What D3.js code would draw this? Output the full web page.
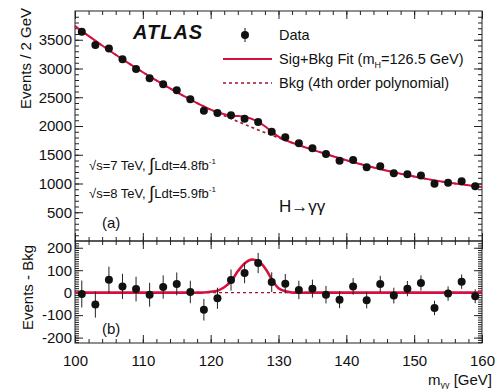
<!DOCTYPE html>
<html><head><meta charset="utf-8">
<script src="https://cdn.jsdelivr.net/npm/d3@7/dist/d3.min.js"></script>
<style>
body{margin:0;background:#fff;}
svg{display:block;font-family:"Liberation Sans",Arial,Helvetica,sans-serif;}
</style></head><body>
<script>
// ---- data ----
const binMass = [101,103,105,107,109,111,113,115,117,119,121,123,125,127,129,131,133,135,137,139,141,143,145,147,149,151,153,155,157,159];
const events  = [3640,3409,3350,3160,2990,2830,2725,2620,2465,2267,2227,2185,2128,2071,1898,1804,1700,1612,1513,1397,1409,1283,1300,1179,1162,1140,995,1013,1040,953];
const errors  = [60,58,58,56,55,53,52,51,50,48,47,47,46,45,44,43,41,40,39,38,37,36,36,35,34,34,32,32,32,31];
const resid   = [-6,-53,58,28,16,-9,25,39,3,-76,-25,56,88,132,47,40,12,18,-9,-31,28,-34,39,-13,18,43,-68,-4,49,-16];

const bkgMass = [100,102,104,106,108,110,112,114,116,118,120,122,124,126,128,130,132,134,136,138,140,142,144,146,148,150,152,154,156,158,160];
const bkgVals = [3740,3567,3400,3239,3084,2935,2792,2655,2524,2399,2280,2180,2078,1980,1885,1795,1708,1627,1550,1475,1405,1340,1279,1222,1169,1120,1076,1036,1000,968,940];

const fitMass = [100,102,104,106,108,110,112,114,116,117,118,119,120,121,122,123,124,125,126,127,128,129,130,131,132,133,134,135,136,138,140,142,144,146,148,150,152,154,156,158,160];
const fitVals = [3740,3567,3400,3239,3084,2935,2792,2655,2524,2461,2399,2340,2284,2239,2204,2179,2173,2159,2127,2072,1995,1900,1815,1757,1709,1667,1627,1588,1550,1475,1405,1340,1279,1222,1169,1120,1076,1036,1000,968,940];

const sigMass = [100,116,117,118,119,120,121,122,123,124,125,126,127,128,129,130,131,132,133,134,136,160];
const sigVals = [0,0,0,0,1,4,9,24,50,95,130,147,140,110,60,20,6,1,0,0,0,0];

const mainTicks = [500,1000,1500,2000,2500,3000,3500];
const lowTicks = [-200,-100,0,100,200];
const xTicks = [100,110,120,130,140,150,160];

// ---- layout ----
const W = 498, H = 389;
const L = 75, R = 482, T = 11, MID = 241, B = 343;
const red = "#d5103f", dred = "#a3122f";

const svg = d3.select("body").append("svg").attr("width", W).attr("height", H);

const x = d3.scaleLinear().domain([100,160]).range([L,R]);
const yM = d3.scaleLinear().domain([0,4000]).range([MID,T]);
const yL = d3.scaleLinear().domain([-224,230]).range([B,MID]);

const fs = 15;

function frame(y0,y1){
  svg.append("rect").attr("x",L).attr("y",y0).attr("width",R-L).attr("height",y1-y0)
     .attr("fill","none").attr("stroke","#222").attr("stroke-width",1);
}

function ticks(axisFn, scale, vals, size, transform, labels, pad){
  const a = axisFn(scale).tickValues(vals).tickSize(size).tickPadding(pad||3);
  if(labels) a.tickFormat(d=>String(d)); else a.tickFormat("");
  const g = svg.append("g").attr("transform",transform).call(a);
  g.select(".domain").remove();
  g.selectAll("line").attr("stroke","#222");
  g.selectAll("text").attr("font-size",fs).attr("fill","#111").attr("font-family","Liberation Sans, Arial, sans-serif");
  return g;
}
const rng = (a,b,s)=>d3.range(a,b+s/2,s);
const xMinor = rng(100,160,2);
const xMajor = xTicks;

// main panel axes
ticks(d3.axisLeft, yM, rng(100,3900,100), -4, `translate(${L},0)`, false);
ticks(d3.axisLeft, yM, mainTicks, -8, `translate(${L},0)`, true, 3);
ticks(d3.axisRight, yM, rng(100,3900,100), -4, `translate(${R},0)`, false);
ticks(d3.axisRight, yM, mainTicks, -8, `translate(${R},0)`, false);
ticks(d3.axisTop, x, xMinor, -4, `translate(0,${T})`, false);
ticks(d3.axisTop, x, xMajor, -8, `translate(0,${T})`, false);
ticks(d3.axisBottom, x, xMinor, -4, `translate(0,${MID})`, false);
ticks(d3.axisBottom, x, xMajor, -8, `translate(0,${MID})`, false);

// lower panel axes
ticks(d3.axisLeft, yL, rng(-220,220,10), -4, `translate(${L},0)`, false);
ticks(d3.axisLeft, yL, lowTicks, -8, `translate(${L},0)`, true, 3);
ticks(d3.axisRight, yL, rng(-220,220,10), -4, `translate(${R},0)`, false);
ticks(d3.axisRight, yL, lowTicks, -8, `translate(${R},0)`, false);
ticks(d3.axisTop, x, xMinor, -4, `translate(0,${MID})`, false);
ticks(d3.axisTop, x, xMajor, -8, `translate(0,${MID})`, false);
ticks(d3.axisBottom, x, xMinor, -4, `translate(0,${B})`, false);
ticks(d3.axisBottom, x, xMajor, -8, `translate(0,${B})`, true, 12);

frame(T,MID); frame(MID,B);

// ---- curves main ----
const lineM = d3.line().x(d=>x(d[0])).y(d=>yM(d[1])).curve(d3.curveCatmullRom);
svg.append("path").attr("d", lineM(d3.zip(bkgMass,bkgVals)))
  .attr("fill","none").attr("stroke",dred).attr("stroke-width",1.6).attr("stroke-dasharray","3,3");
svg.append("path").attr("d", lineM(d3.zip(fitMass,fitVals)))
  .attr("fill","none").attr("stroke",red).attr("stroke-width",2);

const gM = svg.append("g");
binMass.forEach((m,i)=>{
  gM.append("line").attr("x1",x(m)).attr("x2",x(m)).attr("y1",yM(events[i]-errors[i])).attr("y2",yM(events[i]+errors[i]))
    .attr("stroke","#111").attr("stroke-width",1);
  gM.append("circle").attr("cx",x(m)).attr("cy",yM(events[i])).attr("r",4).attr("fill","#111");
});

// ---- lower panel ----
const lineL = d3.line().x(d=>x(d[0])).y(d=>yL(d[1])).curve(d3.curveCatmullRom);
svg.append("path").attr("d", d3.line()([[x(100),yL(0)],[x(160),yL(0)]]))
  .attr("fill","none").attr("stroke",dred).attr("stroke-width",1.2).attr("stroke-dasharray","3,3");
svg.append("path").attr("d", lineL(d3.zip(sigMass,sigVals)))
  .attr("fill","none").attr("stroke",red).attr("stroke-width",2.6);
const gL = svg.append("g");
binMass.forEach((m,i)=>{
  gL.append("line").attr("x1",x(m)).attr("x2",x(m)).attr("y1",yL(resid[i]-errors[i])).attr("y2",yL(resid[i]+errors[i]))
    .attr("stroke","#222").attr("stroke-width",1);
  gL.append("circle").attr("cx",x(m)).attr("cy",yL(resid[i])).attr("r",4).attr("fill","#111");
});

// ---- texts ----
svg.append("text").attr("transform","translate(31,8) rotate(-90)").attr("text-anchor","end")
  .attr("font-size",fs).attr("fill","#111").text("Events / 2 GeV");
svg.append("text").attr("transform","translate(33,330) rotate(-90)").attr("text-anchor","start")
  .attr("font-size",fs).attr("fill","#111").text("Events - Bkg");

const xl = svg.append("text").attr("x",492).attr("y",385).attr("text-anchor","end").attr("font-size",fs).attr("fill","#111");
xl.append("tspan").text("m");
xl.append("tspan").attr("font-size",9).attr("dy",3).text("γγ");
xl.append("tspan").attr("dy",-3).text(" [GeV]");

svg.append("text").attr("x",133).attr("y",39).attr("font-size",20).attr("font-weight","bold")
  .attr("font-style","italic").attr("letter-spacing",1).attr("fill","#111").text("ATLAS");

// legend
svg.append("line").attr("x1",245).attr("x2",245).attr("y1",28).attr("y2",42).attr("stroke","#111");
svg.append("circle").attr("cx",245).attr("cy",35).attr("r",4).attr("fill","#111");
svg.append("line").attr("x1",223).attr("x2",272).attr("y1",59).attr("y2",59).attr("stroke",red).attr("stroke-width",2);
svg.append("line").attr("x1",223).attr("x2",272).attr("y1",83).attr("y2",83).attr("stroke",dred).attr("stroke-width",1.6).attr("stroke-dasharray","3,3");
const lf = 14.5;
svg.append("text").attr("x",279).attr("y",40).attr("font-size",lf).attr("fill","#111").text("Data");
const t2 = svg.append("text").attr("x",279).attr("y",64).attr("font-size",lf).attr("fill","#111");
t2.append("tspan").text("Sig+Bkg Fit  (m");
t2.append("tspan").attr("font-size",9).attr("dy",4).text("H");
t2.append("tspan").attr("dy",-4).text("=126.5 GeV)");
svg.append("text").attr("x",279).attr("y",88).attr("font-size",lf).attr("fill","#111").text("Bkg (4th order polynomial)");

function energy(y, sq, lum){
  const t = svg.append("text").attr("x",89).attr("y",y).attr("font-size",13).attr("fill","#111");
  t.append("tspan").text("√s=" + sq + " TeV, ");
  t.append("tspan").attr("font-size",18).attr("dy",1).text("∫");
  t.append("tspan").attr("dy",-1).text("Ldt=" + lum + "fb");
  t.append("tspan").attr("font-size",8).attr("dy",-6).text("-1");
}
energy(170, "7", "4.8");
energy(198, "8", "5.9");

svg.append("text").attr("x",279).attr("y",212).attr("font-size",17).attr("fill","#111").text("H→γγ");
svg.append("text").attr("x",102).attr("y",228).attr("font-size",fs).attr("fill","#111").text("(a)");
svg.append("text").attr("x",102).attr("y",334).attr("font-size",fs).attr("fill","#111").text("(b)");
</script>
</body></html>
